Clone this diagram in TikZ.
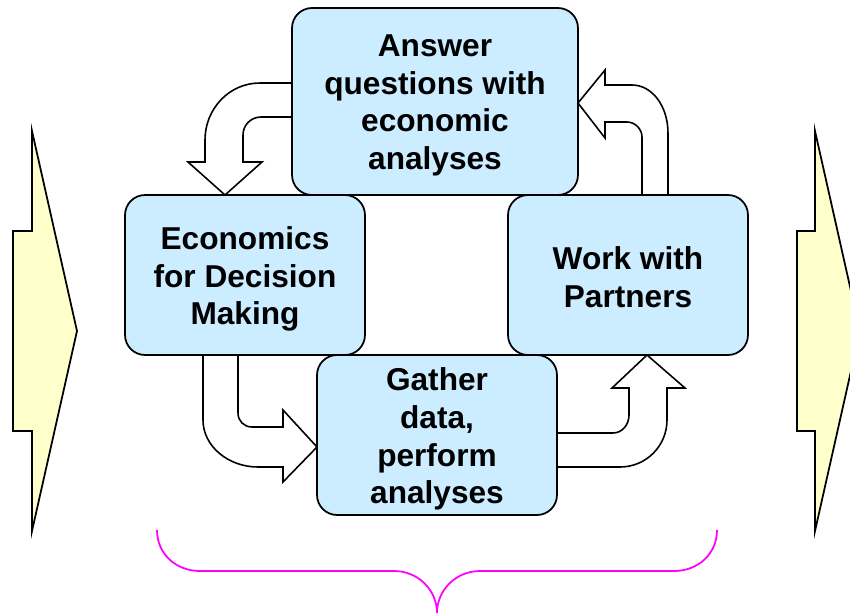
\documentclass[tikz,border=0pt]{standalone}
\usepackage{fontspec}
\setmainfont{Liberation Sans}
\usetikzlibrary{positioning}
\definecolor{boxblue}{RGB}{204,236,255}
\definecolor{chevyellow}{RGB}{255,255,204}
\definecolor{bracepink}{RGB}{255,0,255}

\begin{document}
\begin{tikzpicture}[x=0.02cm,y=-0.02cm,
    box/.style={draw,fill=boxblue,rounded corners=0.4cm,line width=1pt,inner sep=0},
    txt/.style={align=center,inner sep=0,font=\fontsize{18}{21.5}\selectfont\bfseries},
    blk/.style={draw,fill=white,line width=0.9pt},
    chev/.style={draw,fill=chevyellow,line width=1pt},
    brace/.style={draw=bracepink,line width=1pt}]
    \useasboundingbox (0,0) rectangle (850,613);
    \clip (0,0) rectangle (850,613);
    % side arrows
    \path[chev] (32,131) -- (32,231) -- (13,231) -- (13,431) -- (32,431) -- (32,531) -- (77,331) -- cycle;
    \path[chev] (815,131) -- (815,231) -- (797,231) -- (797,431) -- (815,431) -- (815,531) -- (860,331) -- cycle;
    % block arrows
    \path[blk] (292,83) -- (260,83) .. controls (229,83) and (205,109) .. (205,140) -- (205,162)
      -- (188,162) -- (225,195) -- (262,162) -- (243,162) -- (243,135)
      .. controls (243,125) and (251,117) .. (261,117) -- (292,117) -- cycle;
    \path[blk] (578,103) -- (605,70) -- (605,85) -- (632,85) .. controls (652,85) and (668,106) .. (668,133)
      -- (668,195) -- (642,195) -- (642,137) .. controls (642,129) and (635,122) .. (627,122)
      -- (605,122) -- (605,138) -- cycle;
    \path[blk] (203,355) -- (203,420) .. controls (203,446) and (228,467) .. (258,467) -- (283,467)
      -- (283,482) -- (317,447) -- (283,410) -- (283,427) -- (252,427)
      .. controls (244,427) and (238,421) .. (238,413) -- (238,355) -- cycle;
    \path[blk] (557,433) -- (613,433) .. controls (622,433) and (629,425) .. (629,415) -- (629,388)
      -- (612,388) -- (647,355) -- (685,388) -- (667,388) -- (667,420)
      .. controls (667,446) and (646,467) .. (620,467) -- (557,467) -- cycle;
    % boxes
    \node[box,minimum width=5.72cm,minimum height=3.74cm] (answer) at (435,101.5) {};
    \node[box,minimum width=4.8cm,minimum height=3.2cm] (econ) at (245,275) {};
    \node[box,minimum width=4.8cm,minimum height=3.2cm] (partners) at (628,275) {};
    \node[box,minimum width=4.8cm,minimum height=3.2cm] (gather) at (437,435) {};
    \node[txt] (answertxt) at ([yshift=-4*0.02cm]answer) {Answer\\questions with\\economic\\analyses};
    \node[txt] (econtxt) at ([yshift=-4*0.02cm]econ) {Economics\\for Decision\\Making};
    \node[txt] (partnerstxt) at ([yshift=-2*0.02cm]partners) {Work with\\Partners};
    \node[txt] (gathertxt) at ([yshift=-4*0.02cm]gather) {Gather\\data,\\perform\\analyses};
    % brace
    \path[brace] (157,530) .. controls (157,554) and (176,571) .. (200,571) -- (394,571)
      .. controls (418,571) and (437,590) .. (437,613) .. controls (437,590) and (456,571) .. (480,571)
      -- (674,571) .. controls (698,571) and (717,554) .. (717,530);
\end{tikzpicture}
\end{document}
